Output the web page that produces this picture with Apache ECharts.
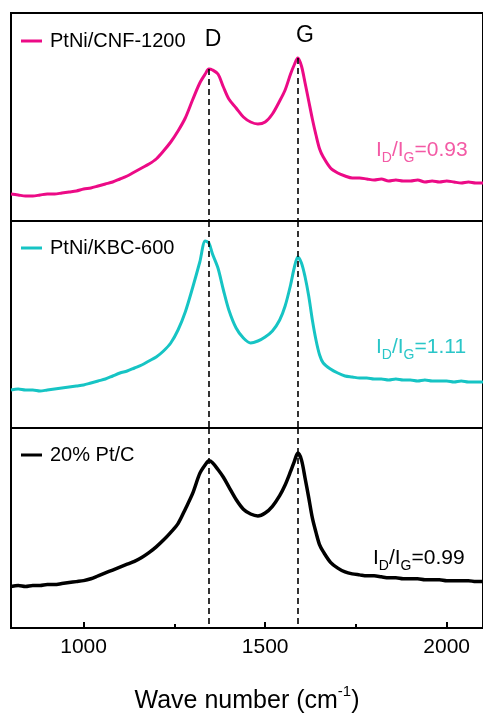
<!DOCTYPE html>
<html>
<head>
<meta charset="utf-8">
<script src="https://cdn.jsdelivr.net/npm/echarts@6.0.0/dist/echarts.min.js"></script>
<style>
  html, body { margin: 0; padding: 0; background: #fff; overflow: hidden; }
  #chart { width: 483px; height: 715px; }
</style>
</head>
<body>
<div id="chart"></div>
<script>
// Raman shift (cm-1), shared by the three spectra
const waveNumbers = [800,820,840,860,880,900,920,940,960,980,1000,1020,1040,1060,1080,1100,1120,1140,1160,1180,1200,1220,1240,1260,1280,1300,1320,
  1335,1345,1355,1370,1385,1400,
  1420,1440,1460,1480,1500,1520,1540,
  1555,1570,1580,1590,1600,1610,1620,1630,1640,1650,1660,
  1680,1700,1720,1740,1760,1780,1800,1820,1840,1860,1880,1900,1920,1940,1960,1980,2000,2020,2040,2060,2080,2100];

// intensities (a.u.), each panel has its own scale
const cnf1200 = [27,26,25,25,26,27,27,28,29,30,32,33,35,37,39,42,45,49,53,57,62,70,79,90,103,121,138,
  147,152,151,147,134,122,
  113,104,99,97,99,107,120,
  131,147,156,163,155,138,120,102,86,72,64,
  53,48,45,43,43,42,41,42,40,41,40,40,41,39,40,39,40,39,38,39,38,38];

const kbc600 = [38,39,38,38,37,38,39,40,41,42,43,45,47,49,52,55,57,60,63,67,71,77,85,98,116,140,166,
  187,185,174,160,138,118,
  100,90,85,87,91,97,108,
  122,143,160,171,165,151,132,108,88,73,65,
  59,55,52,51,50,50,49,49,48,49,48,48,47,48,47,47,47,46,47,46,46,46];

const ptc20 = [43,44,43,44,44,45,45,46,47,48,49,51,54,57,60,63,66,69,73,78,84,91,99,108,123,139,160,
  169,173,171,164,156,146,
  133,123,118,116,119,126,137,
  148,162,172,181,174,155,135,114,99,86,79,
  68,62,58,56,55,54,54,53,52,52,51,51,51,50,50,50,49,49,49,49,48,48];

const seriesNames = ['PtNi/CNF-1200', 'PtNi/KBC-600', '20% Pt/C'];
const lineColors = ['#ec0a86', '#16c4c4', '#000000'];
const labelColors = ['#f35aa5', '#2ac6c8', '#000000'];
const ratios = ['0.93', '1.11', '0.99'];
const bandD = 1345;
const bandG = 1590;
const majorTicks = [1000, 1500, 2000];
const minorTicks = [1250, 1750];

const FONT = '"Liberation Sans", Arial, Helvetica, sans-serif';
const allData = [cnf1200, kbc600, ptc20];

const gridTops = [13, 221, 428];
const gridHeights = [208, 207, 207];
const yMax = [208, 207, 207];

const chart = echarts.init(document.getElementById('chart'));

const grids = gridTops.map((top, i) => ({
  left: 11,
  top: top,
  width: 479,
  height: gridHeights[i],
  show: true,
  borderColor: '#000',
  borderWidth: 2,
  backgroundColor: 'transparent'
}));

const xAxes = [0, 1, 2].map(i => ({
  type: 'value',
  gridIndex: i,
  min: 800,
  max: 2100,
  show: i === 2,
  axisLine: { show: true, lineStyle: { color: '#000', width: 2 } },
  axisTick: {
    show: true,
    inside: true,
    length: 6,
    customValues: majorTicks,
    lineStyle: { color: '#000', width: 2 }
  },
  axisLabel: {
    show: true,
    customValues: majorTicks,
    formatter: v => String(v),
    color: '#000',
    fontSize: 21,
    fontFamily: FONT,
    margin: 9
  },
  splitLine: { show: false },
  name: i === 2 ? 'Wave number (cm{sup|-1})' : '',
  nameLocation: 'middle',
  nameGap: 56,
  nameTextStyle: {
    color: '#000',
    fontSize: 25,
    fontFamily: FONT,
    rich: {
      sup: { fontSize: 15, fontFamily: FONT, color: '#000', padding: [0, 0, 20, 0] }
    }
  }
}));
// minor ticks on the bottom axis
xAxes.push({
  type: 'value',
  gridIndex: 2,
  min: 800,
  max: 2100,
  position: 'bottom',
  axisLine: { show: false },
  axisTick: {
    show: true,
    inside: true,
    length: 4,
    customValues: minorTicks,
    lineStyle: { color: '#000', width: 2 }
  },
  axisLabel: { show: false },
  splitLine: { show: false }
});

const yAxes = [0, 1, 2].map(i => ({
  type: 'value',
  gridIndex: i,
  min: 0,
  max: yMax[i],
  show: false
}));

function valueAt(data, w) {
  return data[waveNumbers.indexOf(w)];
}

const series = allData.map((d, i) => ({
  name: seriesNames[i],
  type: 'line',
  xAxisIndex: i,
  yAxisIndex: i,
  data: waveNumbers.map((w, k) => [w, d[k]]),
  showSymbol: false,
  smooth: 0.3,
  lineStyle: { color: lineColors[i], width: i === 2 ? 3.5 : 3 },
  itemStyle: { color: lineColors[i] },
  animation: false,
  markLine: {
    silent: true,
    symbol: 'none',
    animation: false,
    z: 10,
    label: { show: false },
    lineStyle: { color: '#000', width: 1.6, type: [6, 4] },
    data: [
      [{ coord: [bandD, i === 0 ? valueAt(d, bandD) : yMax[i]] }, { coord: [bandD, 0] }],
      [{ coord: [bandG, i === 0 ? valueAt(d, bandG) : yMax[i]] }, { coord: [bandG, 0] }]
    ]
  }
}));

const legendCenters = [36, 243, 450];
const legends = seriesNames.map((name, i) => ({
  data: [name],
  left: 16,
  top: legendCenters[i] - 10,
  icon: 'rect',
  itemWidth: 21,
  itemHeight: 3,
  selectedMode: false,
  textStyle: { color: '#000', fontSize: 20, fontFamily: FONT, padding: [0, 0, 0, 3] }
}));

const ratioY = [150, 347, 558];
const graphics = [
  { type: 'text', x: 213, y: 40, style: { text: 'D', fill: '#000', font: '23px ' + FONT, align: 'center', verticalAlign: 'middle' } },
  { type: 'text', x: 305, y: 36, style: { text: 'G', fill: '#000', font: '23px ' + FONT, align: 'center', verticalAlign: 'middle' } }
];
ratios.forEach((r, i) => {
  graphics.push({
    type: 'text',
    x: i === 2 ? 373 : 376,
    y: ratioY[i],
    style: {
      text: '{n|I}{s|D}{n|/I}{s|G}{n|=' + r + '}',
      align: 'left',
      verticalAlign: 'middle',
      rich: {
        n: { fontSize: 21, fontFamily: FONT, fill: labelColors[i], color: labelColors[i] },
        s: { fontSize: 14, fontFamily: FONT, fill: labelColors[i], color: labelColors[i], padding: [16, 0, 0, 0] }
      }
    }
  });
});

chart.setOption({
  animation: false,
  backgroundColor: '#fff',
  grid: grids,
  xAxis: xAxes,
  yAxis: yAxes,
  legend: legends,
  series: series,
  graphic: graphics
});
</script>
</body>
</html>
